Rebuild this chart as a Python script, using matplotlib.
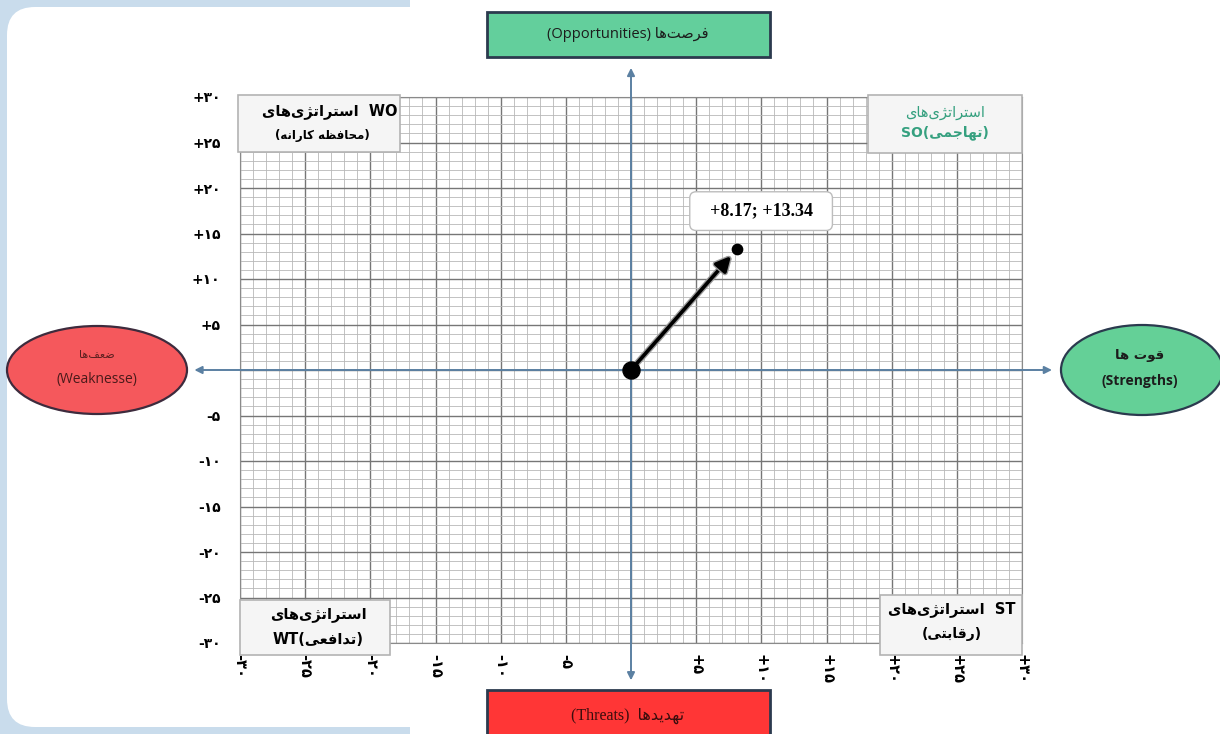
"""SWOT strategy position chart (Persian labels).

One point (x = strengths/weaknesses score, y = opportunities/threats score)
drawn on graph paper with quadrant strategy boxes around it.
"""

import matplotlib

matplotlib.use("Agg")
import matplotlib.pyplot as plt
import matplotlib.patheffects as pe
from matplotlib.patches import Ellipse, FancyBboxPatch, Rectangle

# ---- data -----------------------------------------------------------------
point_x = [8.17]
point_y = [13.34]

x_ticks = [-30, -25, -20, -15, -10, -5, 0, 5, 10, 15, 20, 25, 30]
x_tick_labels = ["-۳۰", "-۲۵", "-۲۰", "-۱۵", "-۱۰", "-۵", "",
                 "+۵", "+۱۰", "+۱۵", "+۲۰", "+۲۵", "+۳۰"]
y_ticks = [-30, -25, -20, -15, -10, -5, 0, 5, 10, 15, 20, 25, 30]
y_tick_labels = ["-۳۰", "-۲۵", "-۲۰", "-۱۵", "-۱۰", "-۵", "",
                 "+۵", "+۱۰", "+۱۵", "+۲۰", "+۲۵", "+۳۰"]

# ---- minimal Persian shaping (matplotlib has no RTL / joining) -------------
# letter: (isolated, final, initial, medial)
FORMS = {
    "\u0627": ("\ufe8d", "\ufe8e", None, None),          # alef
    "\u0628": ("\ufe8f", "\ufe90", "\ufe91", "\ufe92"),  # be
    "\u062a": ("\ufe95", "\ufe96", "\ufe97", "\ufe98"),  # te
    "\u062c": ("\ufe9d", "\ufe9e", "\ufe9f", "\ufea0"),  # jim
    "\u062d": ("\ufea1", "\ufea2", "\ufea3", "\ufea4"),  # he jimi
    "\u062f": ("\ufea9", "\ufeaa", None, None),          # dal
    "\u0631": ("\ufead", "\ufeae", None, None),          # re
    "\u0698": ("\ufb8a", "\ufb8b", None, None),          # zhe
    "\u0633": ("\ufeb1", "\ufeb2", "\ufeb3", "\ufeb4"),  # sin
    "\u0635": ("\ufeb9", "\ufeba", "\ufebb", "\ufebc"),  # sad
    "\u0636": ("\ufebd", "\ufebe", "\ufebf", "\ufec0"),  # zad
    "\u0638": ("\ufec5", "\ufec6", "\ufec7", "\ufec8"),  # za
    "\u0639": ("\ufec9", "\ufeca", "\ufecb", "\ufecc"),  # ein
    "\u0641": ("\ufed1", "\ufed2", "\ufed3", "\ufed4"),  # fe
    "\u0642": ("\ufed5", "\ufed6", "\ufed7", "\ufed8"),  # qaf
    "\u06a9": ("\ufb8e", "\ufb8f", "\ufb90", "\ufb91"),  # kaf
    "\u0645": ("\ufee1", "\ufee2", "\ufee3", "\ufee4"),  # mim
    "\u0646": ("\ufee5", "\ufee6", "\ufee7", "\ufee8"),  # nun
    "\u0647": ("\ufee9", "\ufeea", "\ufeeb", "\ufeec"),  # he
    "\u0648": ("\ufeed", "\ufeee", None, None),          # vav
    "\u06cc": ("\ufbfc", "\ufbfd", "\ufbfe", "\ufbff"),  # ye
}


def fa(text: str) -> str:
    """Shape a pure Persian string and return it in visual (LTR) order."""
    text = text.replace("\u064a", "\u06cc").replace("\u0643", "\u06a9")
    out = []
    for i, c in enumerate(text):
        if c not in FORMS:
            out.append(c)
            continue
        iso, fin, ini, med = FORMS[c]
        prev = text[i - 1] if i > 0 else None
        nxt = text[i + 1] if i + 1 < len(text) else None
        join_prev = prev in FORMS and FORMS[prev][2] is not None
        join_next = ini is not None and nxt in FORMS
        if join_prev and join_next:
            out.append(med)
        elif join_prev:
            out.append(fin)
        elif join_next:
            out.append(ini)
        else:
            out.append(iso)
    return "".join(out)[::-1].replace("\u200c", "")


FA = ["DejaVu Sans"]
SANS = ["Open Sans", "DejaVu Sans"]
SERIF = ["Liberation Serif", "DejaVu Sans"]

STRAT = fa("استراتژی‌های")

fig = plt.figure(figsize=(12.2, 7.34), dpi=100)
fig.patch.set_facecolor("white")

# ---- page background (blue frame, rounded white panel) ---------------------
bg = fig.add_axes([0, 0, 1, 1], zorder=-10)
bg.set_xlim(0, 1220)
bg.set_ylim(734, 0)
bg.axis("off")
bg.add_patch(Rectangle((0, 0), 410, 734, fc="#c9dcec", ec="none"))
bg.add_patch(FancyBboxPatch((7, 7), 1400, 720, fc="white", ec="none",
                            boxstyle="round,pad=0,rounding_size=28"))

# ---- main graph-paper axes -------------------------------------------------
ax = fig.add_axes([240 / 1220, (734 - 643) / 734, 782 / 1220, 546 / 734])
ax.set_facecolor("none")
ax.set_xlim(-30, 30)
ax.set_ylim(-30, 30)
ax.set_xticks(x_ticks)
ax.set_xticklabels(x_tick_labels, rotation=-90, fontsize=10.5,
                   fontweight="bold", family=FA)
ax.set_yticks(y_ticks)
ax.set_yticklabels(y_tick_labels, fontsize=10, fontweight="bold", family=FA)
ax.set_xticks(range(-30, 31), minor=True)
ax.set_yticks(range(-30, 31), minor=True)
ax.tick_params(which="both", length=0)
ax.tick_params(axis="x", pad=8)
ax.tick_params(axis="y", pad=14)
ax.grid(which="minor", color="#b8b8b8", lw=0.6)
ax.grid(which="major", color="#767676", lw=1.0)
ax.set_axisbelow(True)
for sp in ax.spines.values():
    sp.set_color("#8a8a8a")
    sp.set_linewidth(0.8)

# axis arrows (reach outside the paper)
axis_col = "#5b80a2"
ax.annotate("", xy=(32.3, 0), xytext=(-33.5, 0), annotation_clip=False,
            arrowprops=dict(arrowstyle="<|-|>", color=axis_col, lw=1.4,
                            mutation_scale=11, shrinkA=0, shrinkB=0))
ax.annotate("", xy=(0, 33.2), xytext=(0, -34.1), annotation_clip=False,
            arrowprops=dict(arrowstyle="<|-|>", color=axis_col, lw=1.4,
                            mutation_scale=11, shrinkA=0, shrinkB=0))

# strategy vector
ax.annotate("", xy=(point_x[0], point_y[0]), xytext=(0, 0),
            arrowprops=dict(arrowstyle="-|>", color="black", lw=2.6,
                            mutation_scale=22, shrinkA=0, shrinkB=7,
                            path_effects=[pe.withStroke(linewidth=4.5,
                                                        foreground="#9a9a9a")]))
ax.scatter([0], [0], s=150, color="black", zorder=6, clip_on=False)
ax.scatter(point_x, point_y, s=55, color="black", zorder=6)
ax.annotate(f"  +{point_x[0]:.2f}; +{point_y[0]:.2f}  ",
            xy=(point_x[0], point_y[0]), xytext=(17, 27),
            textcoords="offset points", ha="center", va="center",
            fontsize=13, fontweight="bold", family=SERIF,
            bbox=dict(boxstyle="round,pad=0.6,rounding_size=0.35",
                      fc="white", ec="#bdbdbd", lw=1))

# ---- decorations in pixel space --------------------------------------------
deco = fig.add_axes([0, 0, 1, 1], zorder=5)
deco.set_xlim(0, 1220)
deco.set_ylim(734, 0)
deco.axis("off")
deco.patch.set_alpha(0)

box_fc, box_ec = "#f5f5f5", "#b3b3b3"
for x0, y0, w, h in [(238, 95, 162, 57), (868, 95, 154, 58),
                     (240, 600, 150, 55), (880, 595, 142, 60)]:
    deco.add_patch(Rectangle((x0, y0), w, h, fc=box_fc, ec=box_ec, lw=1.2))

# WO
deco.text(330, 111, STRAT + "  WO", ha="center", va="center", fontsize=10.5,
          fontweight="bold", family=FA)
deco.text(322, 136, "(" + fa("محافظه کارانه") + ")", ha="center",
          va="center", fontsize=8.5, fontweight="bold", family=FA)
# SO
so_col = "#35a07f"
deco.text(945, 112, STRAT, ha="center", va="center", fontsize=10.5,
          color=so_col, family=FA)
deco.text(945, 133, "SO(" + fa("تهاجمی") + ")", ha="center", va="center",
          fontsize=10, color=so_col, fontweight="bold", family=FA)
# WT
deco.text(318, 615, STRAT, ha="center", va="center", fontsize=10.5,
          fontweight="bold", family=FA)
deco.text(318, 640, "WT(" + fa("تدافعی") + ")", ha="center", va="center",
          fontsize=10.5, fontweight="bold", family=FA)
# ST
deco.text(952, 609, STRAT + "  ST", ha="center", va="center", fontsize=10.5,
          fontweight="bold", family=FA)
deco.text(952, 634, "(" + fa("رقابتی") + ")", ha="center", va="center",
          fontsize=10, fontweight="bold", family=FA)

# opportunities / threats boxes
dark = "#2b3a4e"
deco.add_patch(Rectangle((487, 12), 283, 45, fc="#63cf9c", ec=dark, lw=2))
deco.text(628, 35, "(Opportunities) " + fa("فرصت‌ها"), ha="center",
          va="center", fontsize=10.5, color="#1c1c1c", family=SANS)
deco.add_patch(Rectangle((487, 690), 283, 50, fc="#ff3636", ec=dark, lw=2))
deco.text(628, 716, "(Threats)  " + fa("تهدیدها"), ha="center", va="center",
          fontsize=11.5, color="#3a0d0d", family=SERIF)

# weaknesses / strengths ellipses
deco.add_patch(Ellipse((97, 370), 180, 88, fc="#f5585c", ec="#3d2b3d", lw=1.6))
deco.text(97, 355, fa("ضعف‌ها"), ha="center", va="center", fontsize=8,
          color="#5a1f1f", family=FA)
deco.text(97, 380, "(Weaknesse)", ha="center", va="center", fontsize=10,
          color="#4a1a1a", family=SANS)
deco.add_patch(Ellipse((1142, 370), 162, 90, fc="#64d097", ec=dark, lw=1.6))
deco.text(1140, 356, fa("قوت ها"), ha="center", va="center", fontsize=9.5,
          fontweight="bold", color="#1c1c1c", family=FA)
deco.text(1140, 381, "(Strengths)", ha="center", va="center", fontsize=10,
          fontweight="bold", color="#1c1c1c", family=SANS)

fig.savefig("out.png", dpi=100)
